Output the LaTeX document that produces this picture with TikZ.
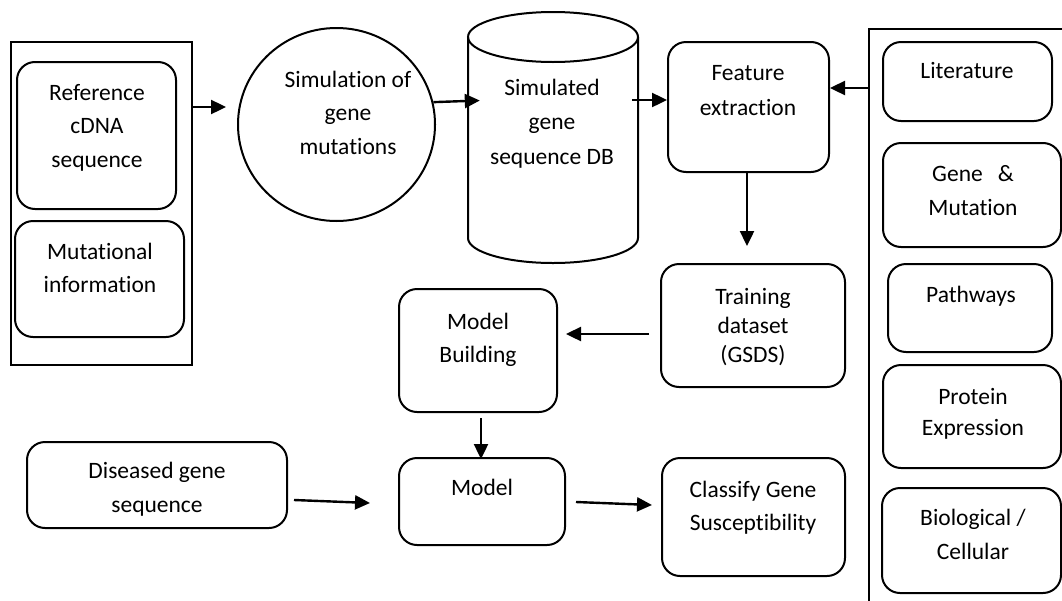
\documentclass[tikz,border=0pt]{standalone}
\usepackage{fontspec}
\setmainfont[RawFeature={-liga;-clig;-calt;-dlig}]{Carlito}
\usetikzlibrary{arrows.meta,shapes.geometric,calc}
\begin{document}
\begin{tikzpicture}[x=1pt,y=-1pt,
  box/.style={draw, line width=2pt, rounded corners=18pt, inner sep=0pt},
  plain/.style={draw, line width=2pt, inner sep=0pt},
  txt/.style={font=\fontsize{23.5}{#1}\selectfont, align=center, inner sep=0pt},
  txt/.default=33,
  arr/.style={line width=2.4pt, -{Triangle[length=15pt,width=14pt]}}]
\useasboundingbox (0,0) rectangle (1062,600);
\clip (0,0) rectangle (1062,600);
\fill[white] (0,0) rectangle (1062,600);

% left group
\node[plain, minimum width=181pt, minimum height=323pt] (outerL) at (101.5,203.5) {};
\node[box, minimum width=159pt, minimum height=147pt] (ref) at (96.5,135.5) {};
\node[txt=33.5] (reft) at (97,126.8) {\strut Reference\\\strut cDNA\\\strut sequence};
\node[box, minimum width=169pt, minimum height=116pt] (mut) at (99.5,279) {};
\node[txt] (mutt) at (100,268.9) {\strut Mutational\\\strut information};

% simulation circle
\node[ellipse, draw, line width=2pt, inner sep=0pt, minimum width=197pt, minimum height=193pt] (sim) at (336.5,124.5) {};
\node[txt=33.5] (simt) at (348,113.8) {\strut Simulation of\\\strut gene\\\strut mutations};

% cylinder
\node[inner sep=0pt, minimum width=170pt, minimum height=251pt] (cyl) at (553,137.5) {};
\draw[line width=2pt] (553,37) ellipse [x radius=85pt, y radius=25pt];
\draw[line width=2pt] (468,37) -- (468,238) arc[start angle=180, end angle=360, x radius=85pt, y radius=25pt] -- (638,37);
\node[txt=34.5] (cylt) at (552,122.6) {\strut Simulated\\\strut gene\\\strut sequence DB};

% feature extraction
\node[box, minimum width=161pt, minimum height=130pt] (feat) at (748.5,107) {};
\node[txt=35] (featt) at (748,90.5) {\strut Feature\\\strut extraction};

% right group
\node[plain, minimum width=206pt, minimum height=581pt] (outerR) at (972,319.5) {};
\node[box, minimum width=169pt, minimum height=79pt] (lit) at (967.5,81.5) {};
\node[txt] (litt) at (967,71.4) {\strut Literature};
\node[box, minimum width=178pt, minimum height=104pt] (gene) at (972,195) {};
\node[txt=34] (genet) at (973,191.2) {\strut Gene\hspace{15pt}\&\\\strut Mutation};
\node[box, minimum width=164pt, minimum height=88pt] (path) at (970,308) {};
\node[txt] (patht) at (971,295.4) {\strut Pathways};
\node[box, minimum width=178pt, minimum height=103pt] (prot) at (972,416.5) {};
\node[txt=31] (prott) at (973,413.3) {\strut Protein\\\strut Expression};
\node[box, minimum width=179pt, minimum height=105pt] (bio) at (971.5,540.5) {};
\node[txt=34] (biot) at (973,535.2) {\strut Biological /\\\strut Cellular};

% middle
\node[box, minimum width=184pt, minimum height=123pt] (train) at (753,325.5) {};
\node[txt=29] (traint) at (753,327.2) {\strut Training\\\strut dataset\\\strut (GSDS)};
\node[box, minimum width=158pt, minimum height=123pt] (mb) at (478,350.5) {};
\node[txt] (mbt) at (478,338.9) {\strut Model\\\strut Building};
\node[box, minimum width=166pt, minimum height=87pt] (model) at (482,501.5) {};
\node[txt] (modelt) at (482,488.4) {\strut Model};
\node[box, minimum width=260pt, minimum height=86pt] (dis) at (157,485) {};
\node[txt=34] (dist) at (157,488.2) {\strut Diseased gene\\\strut sequence};
\node[box, minimum width=183pt, minimum height=118pt] (cls) at (753.5,517) {};
\node[txt] (clst) at (753,506.9) {\strut Classify Gene\\\strut Susceptibility};

% connectors
\draw[arr] ($(outerL.east)+(0,-96.5)$) -- ($(sim.west)+(-11,-17.5)$);
\draw[arr] (sim.13) -- ($(cyl.west)+(12,-37)$);
\draw[arr] ($(cyl.east)+(-6,-37.5)$) -- ($(feat.west)+(0,-7)$);
\draw[arr] ($(outerR.west)+(0,-231.5)$) -- ($(feat.east)+(0,-19)$);
\draw[arr] ($(feat.south)+(-1.5,0)$) -- ($(train.north)+(-6,-17)$);
\draw[arr] ($(train.west)+(-11,8.5)$) -- ($(mb.east)+(8,-16.5)$);
\draw[arr] ($(mb.south)+(3,5)$) -- ($(model.north)+(-1,2)$);
\draw[arr] ($(dis.east)+(6,15)$) -- ($(model.west)+(-28,1.5)$);
\draw[arr] ($(model.east)+(10,0.5)$) -- ($(cls.west)+(-9,-12)$);
\end{tikzpicture}
\end{document}
